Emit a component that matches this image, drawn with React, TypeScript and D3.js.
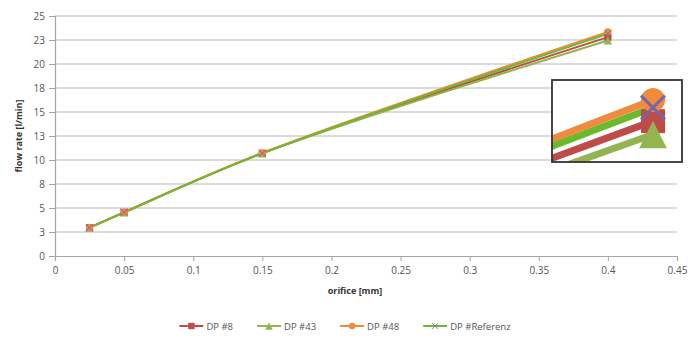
import React, { useEffect, useRef } from "react";
import * as d3 from "d3";

// orifice diameters [mm]
const orifice = [0.025, 0.05, 0.15, 0.4];

// measured flow rates [l/min] per test series
const seriesNames = ["DP #8", "DP #43", "DP #48", "DP #Referenz"];
const dp8 = [2.95, 4.55, 10.7, 22.8];
const dp43 = [2.95, 4.55, 10.7, 22.45];
const dp48 = [2.95, 4.55, 10.75, 23.35];
const dpRef = [2.95, 4.55, 10.7, 23.15];

const xTicks = [0, 0.05, 0.1, 0.15, 0.2, 0.25, 0.3, 0.35, 0.4, 0.45];
const yTicks = [0, 2.5, 5, 7.5, 10, 12.5, 15, 17.5, 20, 22.5, 25];

const W = 690;
const H = 340;
const FONT = "'Open Sans', 'Liberation Sans', sans-serif";

type Style = { line: string; marker: string; shape: "square" | "triangle" | "circle" | "x" };
const styles: Style[] = [
  { line: "#BE4B48", marker: "#BE4B48", shape: "square" },
  { line: "#92B550", marker: "#92B550", shape: "triangle" },
  { line: "#F08A3C", marker: "#F08A3C", shape: "circle" },
  { line: "#6CB92F", marker: "#7A64A8", shape: "x" },
];

type G = d3.Selection<SVGGElement, unknown, null, undefined>;

function drawMarker(g: G, s: Style, x: number, y: number, r: number) {
  if (s.shape === "square") {
    g.append("rect").attr("x", x - r).attr("y", y - r).attr("width", 2 * r).attr("height", 2 * r).attr("fill", s.marker);
  } else if (s.shape === "triangle") {
    const h = r * 1.15;
    g.append("path")
      .attr("d", `M${x},${y - h}L${x + h},${y + h}L${x - h},${y + h}Z`)
      .attr("fill", s.marker);
  } else if (s.shape === "circle") {
    g.append("circle").attr("cx", x).attr("cy", y).attr("r", r).attr("fill", s.marker);
  } else {
    g.append("path")
      .attr("d", `M${x - r},${y - r}L${x + r},${y + r}M${x - r},${y + r}L${x + r},${y - r}`)
      .attr("stroke", s.marker)
      .attr("stroke-width", Math.max(0.8, r * 0.25))
      .attr("fill", "none");
  }
}

export default function App() {
  const ref = useRef<SVGSVGElement>(null);

  useEffect(() => {
    const svg = d3.select(ref.current!);
    svg.selectAll("*").remove();

    const x = d3.scaleLinear().domain([0, 0.45]).range([55, 677]);
    const y = d3.scaleLinear().domain([0, 25]).range([256, 16]);
    const data = [dp8, dp43, dp48, dpRef];

    // gridlines
    svg.append("g")
      .selectAll("line")
      .data(yTicks.slice(1))
      .join("line")
      .attr("x1", x(0))
      .attr("x2", x(0.45))
      .attr("y1", (d) => y(d))
      .attr("y2", (d) => y(d))
      .attr("stroke", "#CFCFCF")
      .attr("stroke-width", 1.4);

    // axes
    const yAxis = d3.axisLeft(y).tickValues(yTicks).tickSize(6).tickPadding(4)
      .tickFormat((d) => d3.format(".0f")(Math.round(+d + 0.001)));
    const gy = svg.append("g").attr("transform", `translate(${x(0)},0)`).call(yAxis);
    const xAxis = d3.axisBottom(x).tickValues(xTicks).tickSize(5).tickPadding(6)
      .tickFormat((d) => String(+(+d).toFixed(2)));
    const gx = svg.append("g").attr("transform", `translate(0,${y(0)})`).call(xAxis);
    for (const g of [gx, gy]) {
      g.select(".domain").attr("stroke", "#A6A6A6").attr("stroke-width", 1.2);
      g.selectAll(".tick line").attr("stroke", "#A6A6A6");
      g.selectAll(".tick text").attr("fill", "#555").attr("font-size", 10).attr("font-family", FONT);
    }

    // axis titles
    svg.append("text").attr("x", 355).attr("y", 294).attr("text-anchor", "middle")
      .attr("font-family", FONT).attr("font-size", 9).attr("font-weight", "bold").attr("fill", "#333")
      .text("orifice [mm]");
    svg.append("text").attr("transform", `translate(22,136) rotate(-90)`).attr("text-anchor", "middle")
      .attr("font-family", FONT).attr("font-size", 9).attr("font-weight", "bold").attr("fill", "#333")
      .text("flow rate [l/min]");

    const drawSeries = (
      g: G,
      px: (v: number) => number,
      py: (v: number) => number,
      lw: number,
      mr: number
    ) => {
      const line = d3.line<number>()
        .x((_, i) => px(orifice[i]))
        .y((d) => py(d))
        .curve(d3.curveCatmullRom.alpha(0.5));
      data.forEach((vals, si) => {
        g.append("path").attr("d", line(vals)!).attr("fill", "none")
          .attr("stroke", styles[si].line).attr("stroke-width", lw);
      });
      data.forEach((vals, si) => {
        vals.forEach((v, i) => drawMarker(g, styles[si], px(orifice[i]), py(v), mr));
      });
    };

    drawSeries(svg.append("g"), x, y, 2, 3.6);

    // magnified detail around the 0.4 mm end points
    const kx = 3.5;
    const ky = 4;
    const fx = x(0.4);
    const fy = y(23.35);
    const box = { x0: 552, y0: 80, x1: 682, y1: 162 };
    const cx = 653;
    const cy = 100;
    const xi = (v: number) => cx + kx * (x(v) - fx);
    const yi = (v: number) => cy + ky * (y(v) - fy);
    svg.append("defs").append("clipPath").attr("id", "detail-clip").append("rect")
      .attr("x", box.x0).attr("y", box.y0).attr("width", box.x1 - box.x0).attr("height", box.y1 - box.y0);
    const clip = svg.append("g").attr("clip-path", "url(#detail-clip)");
    clip.append("rect").attr("x", box.x0).attr("y", box.y0).attr("width", box.x1 - box.x0)
      .attr("height", box.y1 - box.y0).attr("fill", "#fff");
    drawSeries(clip.append("g"), xi, yi, 7, 12);
    svg.append("rect").attr("x", box.x0).attr("y", box.y0).attr("width", box.x1 - box.x0)
      .attr("height", box.y1 - box.y0).attr("fill", "none").attr("stroke", "#333").attr("stroke-width", 1.8);

    // legend
    const lg = svg.append("g");
    const items = seriesNames.map((name, i) => {
      const it = lg.append("g");
      it.append("line").attr("x1", 0).attr("x2", 24).attr("y1", 0).attr("y2", 0)
        .attr("stroke", styles[i].line).attr("stroke-width", 2);
      drawMarker(it, styles[i], 12, 0, 3.2);
      const t = it.append("text").attr("x", 27).attr("y", 3.5)
        .attr("font-family", FONT).attr("font-size", 9.5).attr("fill", "#555").text(name);
      const w = 27 + (t.node() as SVGTextElement).getComputedTextLength();
      return { it, w };
    });
    const gap = 24;
    const total = d3.sum(items, (d) => d.w) + gap * (items.length - 1);
    let cur = 345 - total / 2;
    items.forEach(({ it, w }) => {
      it.attr("transform", `translate(${cur},326)`);
      cur += w + gap;
    });
  }, []);

  return (
    <svg ref={ref} width={W} height={H} style={{ display: "block", position: "absolute", left: 0, top: 0, background: "#fff" }} />
  );
}
